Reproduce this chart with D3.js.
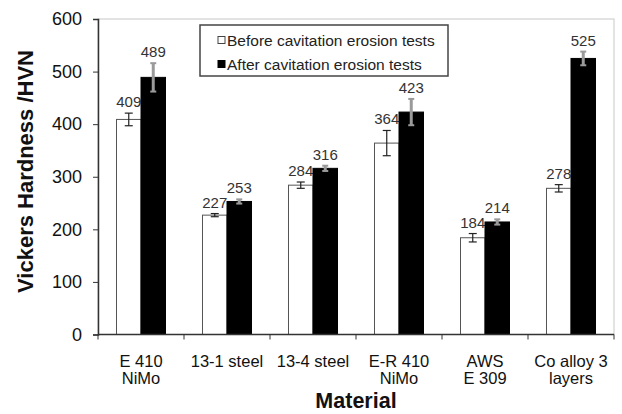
<!DOCTYPE html>
<html>
<head>
<meta charset="utf-8">
<script src="https://cdn.jsdelivr.net/npm/d3@7"></script>
<style>
  body { margin: 0; background: #fff; }
  svg { font-family: "Liberation Sans", Arial, sans-serif; }
</style>
</head>
<body>
<div id="chart"></div>
<script>
// materials along the x axis (two-line labels)
var materials = ["E 410|NiMo", "13-1 steel", "13-4 steel", "E-R 410|NiMo", "AWS|E 309", "Co alloy 3|layers"];
var before = [409, 227, 284, 364, 184, 278];
var after = [489, 253, 316, 423, 214, 525];
// error bar half-heights
var beforeErr = [12, 3, 6, 24, 8, 7];
var afterErr = [27, 4, 5, 25, 5, 13];
var yTicks = [0, 100, 200, 300, 400, 500, 600];

var w = 622, h = 414;
var margin = { top: 19, right: 8, bottom: 79.5, left: 98 };
var iw = w - margin.left - margin.right;
var ih = h - margin.top - margin.bottom;

var svg = d3.select("#chart").append("svg")
    .attr("width", w)
    .attr("height", h);

var g = svg.append("g")
    .attr("transform", "translate(" + margin.left + "," + margin.top + ")");

var x = d3.scaleBand()
    .domain(materials)
    .range([0, iw])
    .paddingInner(0)
    .paddingOuter(0);

var x1 = d3.scaleBand()
    .domain(["before", "after"])
    .range([0, x.bandwidth()])
    .paddingInner(0)
    .paddingOuter(0.755);

var y = d3.scaleLinear()
    .domain([0, 600])
    .range([ih, 0]);

// light frame around plot area
g.append("rect")
    .attr("x", 0)
    .attr("y", 0)
    .attr("width", iw)
    .attr("height", ih)
    .attr("fill", "none")
    .attr("stroke", "#c8c8c8")
    .attr("stroke-width", 1);

var series = [
  { key: "before", vals: before, err: beforeErr, fill: "#fff", stroke: "#555", errColor: "#222", errWidth: 1.2, cap: 8 },
  { key: "after", vals: after, err: afterErr, fill: "#000", stroke: "#000", errColor: "#9a9a9a", errWidth: 3, cap: 6 }
];

series.forEach(function(s) {
  var grp = g.append("g").attr("class", "series-" + s.key);

  grp.selectAll("rect")
      .data(s.vals)
      .enter()
      .append("rect")
      .attr("x", function(d, i) { return x(materials[i]) + x1(s.key); })
      .attr("y", function(d) { return y(d); })
      .attr("width", x1.bandwidth())
      .attr("height", function(d) { return ih - y(d); })
      .attr("fill", s.fill)
      .attr("stroke", s.stroke)
      .attr("stroke-width", 1);

  var eb = grp.selectAll("g.err")
      .data(s.vals)
      .enter()
      .append("g")
      .attr("class", "err")
      .attr("stroke", s.errColor)
      .attr("stroke-width", s.errWidth);

  function cx(i) { return x(materials[i]) + x1(s.key) + x1.bandwidth() / 2; }

  eb.append("line")
      .attr("x1", function(d, i) { return cx(i); })
      .attr("x2", function(d, i) { return cx(i); })
      .attr("y1", function(d, i) { return y(d + s.err[i]); })
      .attr("y2", function(d, i) { return y(d - s.err[i]); });
  eb.append("line")
      .attr("stroke-width", s.key == "before" ? 1.2 : 2)
      .attr("x1", function(d, i) { return cx(i) - s.cap / 2; })
      .attr("x2", function(d, i) { return cx(i) + s.cap / 2; })
      .attr("y1", function(d, i) { return y(d + s.err[i]); })
      .attr("y2", function(d, i) { return y(d + s.err[i]); });
  eb.append("line")
      .attr("stroke-width", s.key == "before" ? 1.2 : 2)
      .attr("x1", function(d, i) { return cx(i) - s.cap / 2; })
      .attr("x2", function(d, i) { return cx(i) + s.cap / 2; })
      .attr("y1", function(d, i) { return y(d - s.err[i]); })
      .attr("y2", function(d, i) { return y(d - s.err[i]); });

  grp.selectAll("text")
      .data(s.vals)
      .enter()
      .append("text")
      .attr("x", function(d, i) { return cx(i); })
      .attr("y", function(d, i) { return y(d + s.err[i]) - 6; })
      .attr("text-anchor", "middle")
      .attr("font-size", 15)
      .attr("fill", "#333")
      .text(function(d) { return d; });
});

// y axis
var yAxis = d3.axisLeft(y).tickValues(yTicks).tickSize(5).tickPadding(11);
var ya = g.append("g").call(yAxis);
ya.select(".domain").attr("stroke", "#333").attr("stroke-width", 1.5);
ya.selectAll(".tick line").attr("stroke", "#333");
ya.selectAll(".tick text")
    .attr("font-size", 18)
    .attr("fill", "#111")
    .attr("font-family", "Liberation Sans, Arial, sans-serif");

// x axis: ticks at band boundaries
var xa = g.append("g").attr("transform", "translate(0," + ih + ")");
xa.append("line")
    .attr("x1", 0).attr("x2", iw)
    .attr("y1", 0).attr("y2", 0)
    .attr("stroke", "#333")
    .attr("stroke-width", 1.5);
xa.selectAll("line.tick")
    .data(materials.concat(["end"]))
    .enter()
    .append("line")
    .attr("class", "tick")
    .attr("x1", function(d, i) { return i < materials.length ? x(d) : iw; })
    .attr("x2", function(d, i) { return i < materials.length ? x(d) : iw; })
    .attr("y1", 0)
    .attr("y2", 5)
    .attr("stroke", "#333");

var xl = xa.selectAll("text.cat")
    .data(materials)
    .enter()
    .append("text")
    .attr("class", "cat")
    .attr("text-anchor", "middle")
    .attr("font-size", 16.5)
    .attr("fill", "#111")
    .attr("transform", function(d) { return "translate(" + (x(d) + x.bandwidth() / 2) + ",0)"; });
xl.selectAll("tspan")
    .data(function(d) { return d.split("|"); })
    .enter()
    .append("tspan")
    .attr("x", 0)
    .attr("y", function(d, i) { return 32 + i * 17; })
    .text(function(d) { return d; });

// axis titles
svg.append("text")
    .attr("x", margin.left + iw / 2)
    .attr("y", 408)
    .attr("text-anchor", "middle")
    .attr("font-size", 21.5)
    .attr("font-weight", "bold")
    .attr("fill", "#111")
    .text("Material");

svg.append("text")
    .attr("transform", "translate(33,171.5) rotate(-90)")
    .attr("text-anchor", "middle")
    .attr("font-size", 22)
    .attr("font-weight", "bold")
    .attr("fill", "#111")
    .text("Vickers Hardness /HVN");

// legend
var lg = svg.append("g").attr("transform", "translate(200,25)");
lg.append("rect")
    .attr("width", 248)
    .attr("height", 51)
    .attr("fill", "#fff")
    .attr("stroke", "#444")
    .attr("stroke-width", 1.5);
var legendItems = [
  { label: "Before cavitation erosion tests", fill: "#fff", stroke: "#444" },
  { label: "After cavitation erosion tests", fill: "#000", stroke: "#000" }
];
legendItems.forEach(function(it, i) {
  var yy = 15 + i * 24;
  lg.append("rect")
      .attr("x", 18)
      .attr("y", yy - 3.5)
      .attr("width", 7)
      .attr("height", 7)
      .attr("fill", it.fill)
      .attr("stroke", it.stroke)
      .attr("stroke-width", 1);
  lg.append("text")
      .attr("x", 27)
      .attr("y", yy + 5.5)
      .attr("font-size", 15.5)
      .attr("fill", "#222")
      .text(it.label);
});
</script>
</body>
</html>
